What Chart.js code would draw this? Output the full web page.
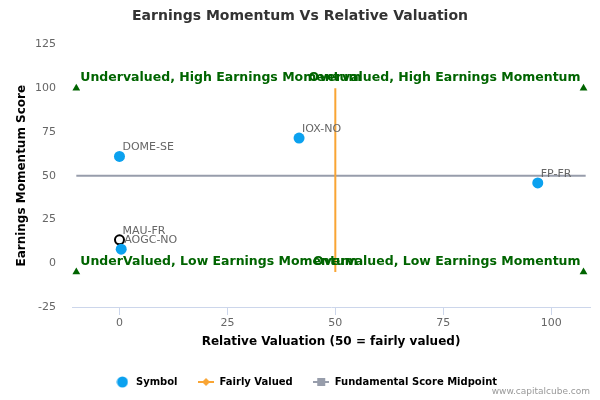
<!DOCTYPE html>
<html>
<head>
<meta charset="utf-8">
<script src="https://cdn.jsdelivr.net/npm/chart.js@4.4.1/dist/chart.umd.min.js"></script>
<style>
  html, body { margin: 0; padding: 0; background: #fff; }
  #wrap { width: 600px; height: 400px; }
</style>
</head>
<body>
<div id="wrap"><canvas id="chart"></canvas></div>
<script>
// Symbols and their scores
const symbols = ['DOME-SE', 'IOX-NO', 'FP-FR', 'MAU-FR', 'AOGC-NO'];
const relValuation = [0, 41.6, 96.9, 0, 0.4];
const momentumScore = [61, 71.5, 45.9, 13.4, 8];
const highlighted = 'MAU-FR';

// Reference lines
const fairX = [50, 50];
const fairY = [-5, 100];
const midX = [-10, 108];
const midY = [50, 50];

// Quadrant corner markers
const quadrantLabels = [
    'Undervalued, High Earnings Momentum',
    'Overvalued, High Earnings Momentum',
    'UnderValued, Low Earnings Momentum',
    'Overvalued, Low Earnings Momentum'
];
const quadrantX = [-10, 107.5, -10, 107.5];
const quadrantY = [100, 100, -5, -5];

const xTicks = [0, 25, 50, 75, 100];
const legendNames = ['Symbol', 'Fairly Valued', 'Fundamental Score Midpoint'];

const BLUE = '#0ba1ef';
const ORANGE = '#f9a534';
const GRAY = '#979dab';
const GREEN = '#006400';

Chart.defaults.font.family = '"DejaVu Sans", Verdana, sans-serif';

// Small canvases used as legend symbols
function makeIcon(w, h, draw) {
    const c = document.createElement('canvas');
    c.width = w;
    c.height = h;
    draw(c.getContext('2d'), w, h);
    return c;
}

const icons = [
    makeIcon(12, 12, (g) => {
        g.fillStyle = BLUE;
        g.beginPath();
        g.arc(6, 6, 5.5, 0, Math.PI * 2);
        g.fill();
    }),
    makeIcon(16, 10, (g, w, h) => {
        g.fillStyle = ORANGE;
        g.fillRect(0, h / 2 - 1, w, 2);
        g.beginPath();
        g.moveTo(w / 2, 1);
        g.lineTo(w / 2 + 4, h / 2);
        g.lineTo(w / 2, h - 1);
        g.lineTo(w / 2 - 4, h / 2);
        g.closePath();
        g.fill();
    }),
    makeIcon(16, 10, (g, w, h) => {
        g.fillStyle = GRAY;
        g.fillRect(0, h / 2 - 1, w, 2);
        g.fillRect(w / 2 - 4, 1, 8, 8);
    })
];

// Nudge the legend a little to the right, like the original
const legendShift = {
    id: 'legendShift',
    afterLayout(chart) {
        chart.legend.left += 5.5;
        chart.legend.right += 5.5;
    }
};

// Draws point names, quadrant captions and the credit line
const labelPlugin = {
    id: 'textLabels',
    afterDatasetsDraw(chart) {
        const ctx = chart.ctx;
        ctx.save();
        ctx.textBaseline = 'middle';

        ctx.font = '11px "DejaVu Sans"';
        ctx.fillStyle = '#666';
        ctx.textAlign = 'left';
        chart.getDatasetMeta(0).data.forEach((pt, i) => {
            ctx.fillText(symbols[i], pt.x + 3, pt.y - 9);
        });

        ctx.font = 'bold 12.5px "DejaVu Sans"';
        ctx.fillStyle = GREEN;
        chart.getDatasetMeta(3).data.forEach((pt, i) => {
            const right = i % 2 === 1;
            ctx.textAlign = right ? 'right' : 'left';
            ctx.fillText(quadrantLabels[i], right ? pt.x - 3 : pt.x + 4, pt.y - 10.5);
        });

        ctx.font = '9px "DejaVu Sans"';
        ctx.fillStyle = '#999';
        ctx.textAlign = 'right';
        ctx.fillText('www.capitalcube.com', 590, 392);
        ctx.restore();
    }
};

const ctx = document.getElementById('chart').getContext('2d');
const chart = new Chart(ctx, {
    type: 'scatter',
    data: {
        datasets: [{
            label: 'Symbol',
            data: relValuation.map((x, i) => ({ x: x, y: momentumScore[i] })),
            pointBackgroundColor: symbols.map(s => s === highlighted ? '#fff' : BLUE),
            pointBorderColor: symbols.map(s => s === highlighted ? '#000' : BLUE),
            pointBorderWidth: symbols.map(s => s === highlighted ? 2 : 0),
            pointRadius: symbols.map(s => s === highlighted ? 4.5 : 5.5)
        }, {
            label: 'Fairly Valued',
            data: fairX.map((x, i) => ({ x: x, y: fairY[i] })),
            showLine: true,
            borderColor: ORANGE,
            borderWidth: 2,
            pointRadius: 0
        }, {
            label: 'Fundamental Score Midpoint',
            data: midX.map((x, i) => ({ x: x, y: midY[i] })),
            showLine: true,
            borderColor: GRAY,
            borderWidth: 2,
            pointRadius: 0
        }, {
            label: 'Quadrants',
            data: quadrantX.map((x, i) => ({ x: x, y: quadrantY[i] })),
            pointStyle: 'triangle',
            pointRadius: 4.5,
            pointBackgroundColor: GREEN,
            pointBorderColor: GREEN,
            pointBorderWidth: 0
        }]
    },
    options: {
        responsive: true,
        maintainAspectRatio: false,
        animation: false,
        events: [],
        layout: {
            padding: { left: 10, right: 10, top: 0.5, bottom: 3 }
        },
        plugins: {
            title: {
                display: true,
                text: 'Earnings Momentum Vs Relative Valuation',
                color: '#333',
                font: { size: 14, weight: 'bold' },
                padding: { top: 7.6, bottom: 19.5 }
            },
            legend: {
                position: 'bottom',
                labels: {
                    usePointStyle: true,
                    pointStyleWidth: 17,
                    padding: 20,
                    color: '#333',
                    font: { size: 10, weight: 'bold' },
                    generateLabels: () => legendNames.map((text, i) => ({
                        text: text,
                        pointStyle: icons[i],
                        datasetIndex: i,
                        fillStyle: 'transparent',
                        strokeStyle: 'transparent',
                        lineWidth: 0,
                        hidden: false
                    }))
                }
            },
            tooltip: { enabled: false }
        },
        scales: {
            x: {
                type: 'linear',
                min: -11,
                max: 109,
                afterBuildTicks: (scale) => {
                    scale.ticks = xTicks.map(v => ({ value: v }));
                },
                afterFit: (scale) => {
                    scale.height = 50;
                },
                grid: {
                    drawOnChartArea: false,
                    drawTicks: true,
                    tickLength: 8,
                    color: '#ccd6eb'
                },
                border: { display: true, color: '#ccd6eb', width: 1 },
                ticks: { color: '#666', font: { size: 11 }, padding: 2 },
                title: {
                    display: true,
                    text: 'Relative Valuation (50 = fairly valued)',
                    color: '#000',
                    font: { size: 12, weight: 'bold' },
                    padding: { top: 0, bottom: 8 }
                }
            },
            y: {
                min: -25,
                max: 125,
                afterFit: (scale) => {
                    scale.width = 62;
                },
                grid: { display: false, drawTicks: false },
                border: { display: false },
                ticks: { stepSize: 25, color: '#666', font: { size: 11 }, padding: 16 },
                title: {
                    display: true,
                    text: 'Earnings Momentum Score',
                    color: '#000',
                    font: { size: 12, weight: 'bold' },
                    padding: { top: 5, bottom: 0 }
                }
            }
        }
    },
    plugins: [labelPlugin, legendShift]
});
</script>
</body>
</html>
